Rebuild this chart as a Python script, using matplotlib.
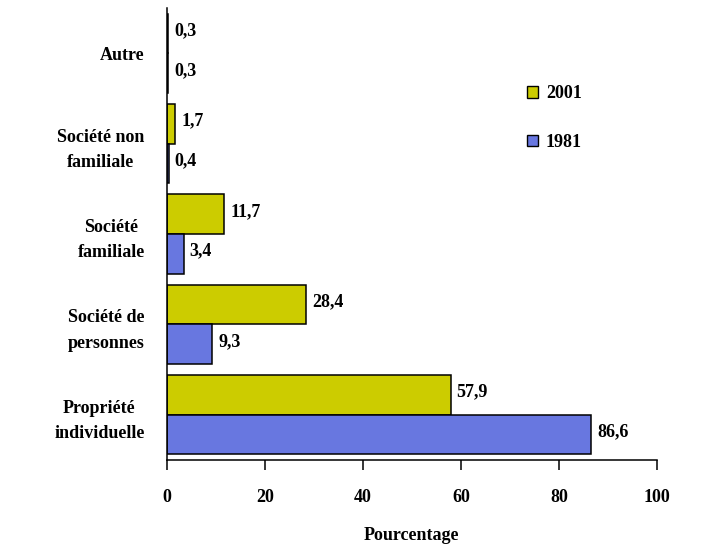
import matplotlib.pyplot as plt
import numpy as np
from matplotlib.patches import Patch

categories = ['Propriété\nindividuelle', 'Société de\npersonnes', 'Société\nfamiliale',
              'Société non\nfamiliale', 'Autre']
val_2001 = [57.9, 28.4, 11.7, 1.7, 0.3]
val_1981 = [86.6, 9.3, 3.4, 0.4, 0.3]

plt.rcParams['font.family'] = ['Liberation Serif', 'DejaVu Serif']
plt.rcParams['font.weight'] = 'bold'

fig = plt.figure(figsize=(7.07, 5.5), dpi=100)
ax = fig.add_axes([0.236, 0.164, 0.693, 0.821])

y = np.arange(len(categories))
h = 0.44
c2001 = '#cccc00'
c1981 = '#6877e0'
ax.barh(y + h / 2, val_2001, height=h, color=c2001, edgecolor='black', linewidth=1.1)
ax.barh(y - h / 2, val_1981, height=h, color=c1981, edgecolor='black', linewidth=1.1)

# value labels, decimal comma
for yi, v in zip(y, val_2001):
    ax.text(v + 1.2, yi + h / 2 + 0.03, f'{v:.1f}'.replace('.', ','), va='center',
            ha='left', fontsize=13, fontweight='bold')
for yi, v in zip(y, val_1981):
    ax.text(v + 1.2, yi - h / 2 + 0.03, f'{v:.1f}'.replace('.', ','), va='center',
            ha='left', fontsize=13, fontweight='bold')

ax.set_xlim(0, 100)
ax.set_ylim(-0.5, 4.5)
ax.set_xticks([0, 20, 40, 60, 80, 100])
ax.set_yticks(y)
ax.set_yticklabels(categories, fontsize=13, fontweight='bold', ha='right',
                   multialignment='center', linespacing=1.65)
ax.tick_params(axis='y', length=0, pad=16)
ax.tick_params(axis='x', length=7, width=1.1, pad=14, labelsize=13, direction='out')
for s in ['top', 'right']:
    ax.spines[s].set_visible(False)
ax.spines['left'].set_linewidth(1.1)
ax.spines['bottom'].set_linewidth(1.1)
ax.set_xlabel('Pourcentage', fontsize=13, fontweight='bold', labelpad=15)

handles = [Patch(facecolor=c2001, edgecolor='black'),
           Patch(facecolor=c1981, edgecolor='black')]
ax.legend(handles, ['2001', '1981'], loc='upper left', bbox_to_anchor=(0.702, 0.865),
          frameon=False, fontsize=13, handlelength=0.61, handleheight=0.61,
          handletextpad=0.44, labelspacing=1.75)

fig.savefig('out.png', dpi=100)
